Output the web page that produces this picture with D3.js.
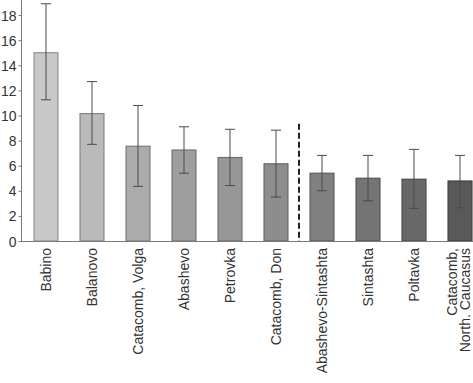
<!DOCTYPE html>
<html>
<head>
<meta charset="utf-8">
<script src="https://cdn.jsdelivr.net/npm/d3@7"></script>
<style>
  body { margin: 0; background: #fff; }
  svg { display: block; font-family: Arial, "Liberation Sans", sans-serif; }
</style>
</head>
<body>
<svg id="chart" width="473" height="383"></svg>
<script>
const groups = ['Babino', 'Balanovo', 'Catacomb, Volga', 'Abashevo', 'Petrovka', 'Catacomb, Don',
    'Abashevo-Sintashta', 'Sintashta', 'Poltavka', 'Catacomb,|North. Caucasus'];
const means = [15.0, 10.15, 7.55, 7.25, 6.65, 6.15, 5.4, 5.0, 4.92, 4.78];
const errHigh = [18.9, 12.7, 10.8, 9.1, 8.9, 8.83, 6.82, 6.82, 7.3, 6.82];
const errLow = [11.25, 7.7, 4.35, 5.4, 4.42, 3.5, 4.0, 3.2, 2.6, 2.65];
const fills = ['#c8c8c8', '#bababa', '#ababab', '#9e9e9e', '#979797', '#8d8d8d', '#808080', '#747474', '#686868', '#595959'];
const yTicks = [0, 2, 4, 6, 8, 10, 12, 14, 16, 18];
const dividerAfter = 'Catacomb, Don';

const svg = d3.select('#chart');
const axisColor = '#7a7a7a';

const x = d3.scaleBand().domain(groups).range([23, 483]).paddingInner(0.48).paddingOuter(0.24);
const y = d3.scaleLinear().domain([0, 19.2]).range([241, 0]);

// y axis
const yAxis = svg.append('g')
    .attr('transform', 'translate(21.5,0)')
    .call(d3.axisLeft(y).tickValues(yTicks).tickSize(3).tickPadding(2));
yAxis.select('.domain').attr('stroke', axisColor).attr('d', `M0,${y(0)}V0`);
yAxis.selectAll('.tick line').attr('stroke', axisColor);
yAxis.selectAll('.tick text').attr('fill', '#333').attr('font-size', 14).attr('dy', '0.36em');

// bars
svg.selectAll('rect.bar')
    .data(groups)
    .join('rect')
    .attr('class', 'bar')
    .attr('x', (d) => x(d))
    .attr('width', x.bandwidth())
    .attr('y', (d, i) => y(means[i]))
    .attr('height', (d, i) => y(0) - y(means[i]))
    .attr('fill', (d, i) => fills[i])
    .attr('stroke', (d, i) => d3.color(fills[i]).darker(0.9))
    .attr('stroke-width', 1.2);

// error bars
const err = svg.append('g').attr('stroke', '#4a4a4a').attr('stroke-width', 1);
groups.forEach((g, i) => {
    const cx = x(g) + x.bandwidth() / 2;
    err.append('line').attr('x1', cx).attr('x2', cx).attr('y1', y(errHigh[i])).attr('y2', y(errLow[i]));
    [errHigh[i], errLow[i]].forEach((v) => {
        err.append('line').attr('x1', cx - 5).attr('x2', cx + 5).attr('y1', y(v)).attr('y2', y(v));
    });
});

// x axis baseline
svg.append('line')
    .attr('x1', 21).attr('x2', 473)
    .attr('y1', y(0) + 0.5).attr('y2', y(0) + 0.5)
    .attr('stroke', axisColor);

// dashed divider
const idx = groups.indexOf(dividerAfter);
const divX = (x(groups[idx]) + x.bandwidth() + x(groups[idx + 1])) / 2;
svg.append('line')
    .attr('x1', divX).attr('x2', divX)
    .attr('y1', y(9.35)).attr('y2', y(0))
    .attr('stroke', '#222')
    .attr('stroke-width', 2)
    .attr('stroke-dasharray', '6,3');

// x labels, rotated
const labels = svg.selectAll('g.xlab')
    .data(groups)
    .join('g')
    .attr('class', 'xlab')
    .attr('transform', (d) => `translate(${x(d) + x.bandwidth() / 2},248) rotate(-90)`);

labels.each(function (d) {
    const lines = d.split('|');
    const t = d3.select(this).append('text')
        .attr('text-anchor', 'end')
        .attr('font-size', 14)
        .attr('fill', '#333');
    lines.forEach((ln, k) => {
        t.append('tspan')
            .attr('x', 0)
            .attr('y', (k - (lines.length - 1) / 2) * 13.5 - (lines.length > 1 ? 1.5 : 0))
            .attr('dy', '0.36em')
            .text(ln);
    });
});
</script>
</body>
</html>
